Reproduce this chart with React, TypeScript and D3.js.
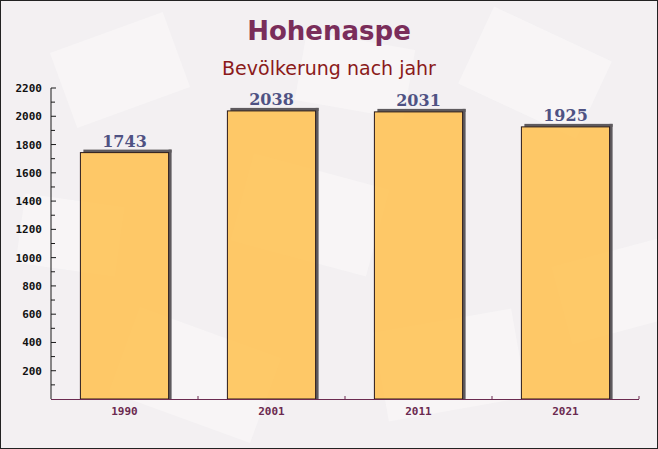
import React from "react";
import * as d3 from "d3";

const years = ["1990", "2001", "2011", "2021"];
const population = [1743, 2038, 2031, 1925];
const yTicks = [200, 400, 600, 800, 1000, 1200, 1400, 1600, 1800, 2000, 2200];
const title = "Hohenaspe";
const subtitle = "Bevölkerung nach jahr";

const W = 658;
const H = 449;
const M = { left: 51, right: 19, top: 88, bottom: 50 };

export default function App() {
  const x = d3.scaleBand().domain(years).range([M.left, W - M.right]).paddingInner(0.4).paddingOuter(0.2);
  const band = d3.scaleBand().domain(years).range([M.left, W - M.right]);
  const y = d3.scaleLinear().domain([0, 2200]).range([H - M.bottom, M.top]);
  const minor = d3.range(100, 2200, 200);
  const axisY = H - M.bottom;
  const envelopes = [
    [60, 30, 120, 80, -20], [240, 170, 140, 90, 15], [470, 30, 130, 85, 25], [560, 250, 120, 80, -15],
    [120, 330, 150, 90, 20], [380, 320, 140, 90, -10], [300, 40, 110, 70, 10], [20, 200, 100, 70, 8],
  ];
  return (
    <div style={{ position: "fixed", left: 0, top: 0 }}>
      <svg width={W} height={H} style={{ display: "block" }}>
        <rect x={0} y={0} width={W} height={H} fill="#f3f0f2" />
        {envelopes.map((e, i) => (
          <rect key={i} x={e[0]} y={e[1]} width={e[2]} height={e[3]} fill="#fbfafa" opacity={0.55}
            transform={`rotate(${e[4]} ${e[0] + e[2] / 2} ${e[1] + e[3] / 2})`} />
        ))}
        <rect x={0.5} y={0.5} width={W - 1} height={H - 1} fill="none" stroke="#222" strokeWidth={1} />
        <text x={W / 2} y={40} textAnchor="middle" fontFamily="DejaVu Sans" fontWeight="bold" fontSize={26} fill="#7a2d5a">{title}</text>
        <text x={W / 2} y={75} textAnchor="middle" fontFamily="DejaVu Sans" fontSize={19} fill="#8b1a1a">{subtitle}</text>

        {years.map((yr, i) => {
          const bx = x(yr)!;
          const by = y(population[i]);
          const bw = x.bandwidth();
          return (
            <g key={yr}>
              <rect x={bx + 3} y={by - 3} width={bw} height={3} fill="#5e5a5e" />
              <rect x={bx + bw} y={by - 3} width={3} height={axisY - by + 3} fill="#5e5a5e" />
              <rect x={bx} y={by} width={bw} height={axisY - by} fill="#ffc14f" fillOpacity={0.85} stroke="#2a1a1a" strokeWidth={1} />
              <text x={bx + bw / 2} y={by - 6} textAnchor="middle" fontFamily="DejaVu Serif" fontWeight="bold" fontSize={16} fill="#4f5283">{population[i]}</text>
              <text x={band(yr)! + band.bandwidth() / 2} y={axisY + 16} textAnchor="middle" fontFamily="DejaVu Sans Mono" fontWeight="bold" fontSize={11} fill="#6b2a50">{yr}</text>
            </g>
          );
        })}

        <line x1={M.left} x2={M.left} y1={M.top} y2={axisY} stroke="#1a1a1a" strokeWidth={1} />
        <line x1={M.left} x2={W - M.right} y1={axisY + 0.5} y2={axisY + 0.5} stroke="#6b2a50" strokeWidth={1.2} />
        {yTicks.map((t) => (
          <g key={t}>
            <line x1={M.left} x2={M.left + 5} y1={y(t)} y2={y(t)} stroke="#1a1a1a" />
            <text x={42} y={y(t) + 4} textAnchor="end" fontFamily="DejaVu Sans Mono" fontWeight="bold" fontSize={11} fill="#111">{t}</text>
          </g>
        ))}
        {minor.map((t) => (
          <line key={t} x1={M.left} x2={M.left + 4} y1={y(t)} y2={y(t)} stroke="#1a1a1a" />
        ))}
        {years.slice(1).concat(["end"]).map((yr, i) => {
          const bx = M.left + band.bandwidth() * (i + 1);
          return <line key={yr} x1={bx} x2={bx} y1={axisY - 3} y2={axisY} stroke="#6b2a50" />;
        })}
      </svg>
    </div>
  );
}
